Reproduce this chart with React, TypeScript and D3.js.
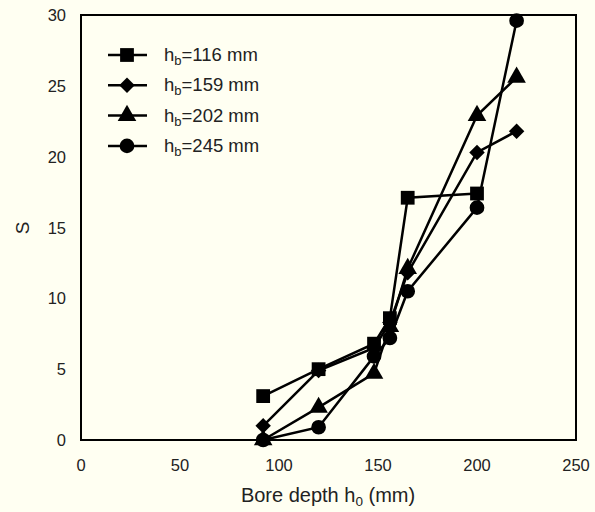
import React from "react";
import * as d3 from "d3";

const depths = [92, 120, 148, 156, 165, 200, 220];
const seriesNames = ["116", "159", "202", "245"];
const s116 = [3.1, 5.0, 6.8, 8.6, 17.1, 17.4];
const s159 = [1.0, 4.9, 6.5, 8.3, 11.8, 20.3, 21.8];
const s202 = [0, 2.3, 4.7, 8.0, 12.1, 22.9, 25.6];
const s245 = [0, 0.9, 5.9, 7.2, 10.5, 16.4, 29.6];
const xTicks = [0, 50, 100, 150, 200, 250];
const yTicks = [0, 5, 10, 15, 20, 25, 30];

const W = 595, H = 512;
const M = { left: 81, right: 576, top: 15, bottom: 440 };

const x = d3.scaleLinear().domain([0, 250]).range([M.left, M.right]);
const y = d3.scaleLinear().domain([0, 30]).range([M.bottom, M.top]);

const diamond = {
  draw(ctx: any, size: number) {
    const r = Math.sqrt(size / 2);
    ctx.moveTo(0, -r);
    ctx.lineTo(r, 0);
    ctx.lineTo(0, r);
    ctx.lineTo(-r, 0);
    ctx.closePath();
  },
};

const shapes: any[] = [d3.symbolSquare, diamond, d3.symbolTriangle, d3.symbolCircle];
const sizes = [190, 120, 150, 170];
const allSeries = [s116, s159, s202, s245];

export default function App() {
  const line = d3.line<[number, number]>().x(d => x(d[0])).y(d => y(d[1]));
  const font = "'Liberation Sans', Arial, sans-serif";
  return (
    <svg width={W} height={H} style={{ position: "fixed", left: 0, top: 0, display: "block" }}>
      <rect x={0} y={0} width={W} height={H} fill="#FFFFF2" />
      <rect x={M.left} y={M.top} width={M.right - M.left} height={M.bottom - M.top} fill="none" stroke="#000" strokeWidth={2} />
      {xTicks.map(t => (
        <text key={"x" + t} x={x(t)} y={471} textAnchor="middle" fontFamily={font} fontSize={16.5} fill="#222">{t}</text>
      ))}
      {yTicks.map(t => (
        <text key={"y" + t} x={66} y={y(t) + 6} textAnchor="end" fontFamily={font} fontSize={16.5} fill="#222">{t}</text>
      ))}
      <text x={328} y={502} textAnchor="middle" fontFamily={font} fontSize={20} fill="#222">
        Bore depth h<tspan fontSize={13.5} dy={4}>0</tspan><tspan dy={-4}> (mm)</tspan>
      </text>
      <text transform="translate(29,228) rotate(-90)" textAnchor="middle" fontFamily={font} fontSize={19} fill="#222">S</text>
      {allSeries.map((s, i) => {
        const pts: [number, number][] = s.map((v, j) => [depths[j], v]);
        const sym = d3.symbol().type(shapes[i]).size(sizes[i])();
        return (
          <g key={"s" + i}>
            <path d={line(pts) || ""} fill="none" stroke="#000" strokeWidth={2.5} />
            {pts.map((p, j) => (
              <path key={j} d={sym || ""} transform={`translate(${x(p[0])},${y(p[1])})`} fill="#000" />
            ))}
          </g>
        );
      })}
      {seriesNames.map((n, i) => {
        const ly = 55 + i * 30.3;
        const sym = d3.symbol().type(shapes[i]).size(sizes[i])();
        return (
          <g key={"l" + i}>
            <line x1={108} x2={147} y1={ly} y2={ly} stroke="#000" strokeWidth={2.5} />
            <path d={sym || ""} transform={`translate(127,${ly})`} fill="#000" />
            <text x={164} y={ly + 6} fontFamily={font} fontSize={18.5} fill="#222">
              h<tspan fontSize={13} dy={4}>b</tspan><tspan dy={-4}>={n} mm</tspan>
            </text>
          </g>
        );
      })}
    </svg>
  );
}
